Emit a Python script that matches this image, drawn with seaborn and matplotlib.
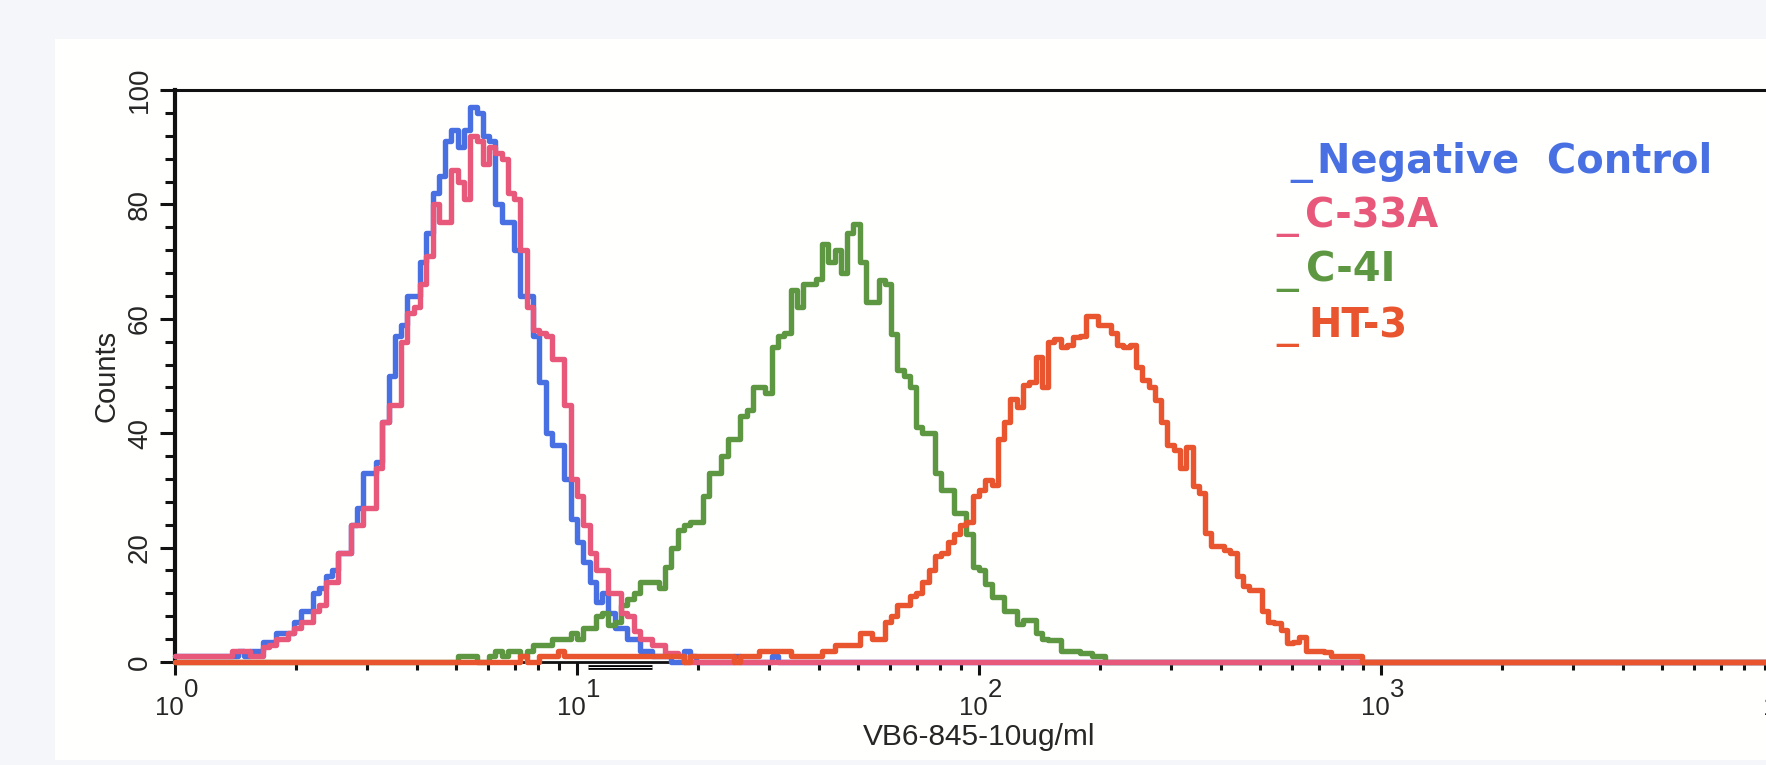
import numpy as np
import pandas as pd
import matplotlib
matplotlib.use("Agg")
import matplotlib.pyplot as plt
from matplotlib.patches import Rectangle
from matplotlib.ticker import LogLocator, NullFormatter, MultipleLocator
import seaborn as sns

# 256 log-amplified channels spread over four decades
n_channels = 256
channels_per_decade = 64

samples = ["Negative  Control", "C-33A", "C-4I", "HT-3"]
sample_colors = ["#4870e2", "#e8587a", "#5e9742", "#e8552f"]

neg_ctrl_start = 0
neg_ctrl_counts = [1, 1, 1, 1, 1, 1, 1, 1, 1, 1, 2, 1, 2, 2, 3.5, 3.5, 5, 5, 5, 7,
                   9, 9, 12, 13, 15, 16, 19, 19, 24, 27, 33, 33, 35, 42, 50, 57,
                   59, 64, 64, 70, 75, 82, 85, 91, 93, 90, 93, 97, 96, 92, 91, 80,
                   77, 77, 72, 64, 64, 57, 49, 40, 38, 38, 32, 25, 21, 17.5, 14,
                   10.5, 12, 8.6, 6, 6, 4, 4, 2, 2, 1, 1, 1, 0, 0, 2, 1, 0, 0, 0,
                   0, 0, 0, 1, 0, 0, 0, 0, 0, 1]

c33a_start = 0
c33a_counts = [1, 1, 1, 1, 1, 1, 1, 1, 1, 2, 2, 2, 1, 1, 2.6, 3, 4, 4, 5, 6, 7, 7,
               9, 10, 14, 14, 19, 19, 24, 24, 27, 27, 34, 42, 45, 45, 56, 61, 62,
               66, 71, 80, 77, 77, 86, 84, 81, 92, 91, 87, 90, 89, 88, 82, 81, 72,
               62, 58, 57.5, 57, 53, 53, 45, 32, 29, 24, 19, 16, 16, 12, 12, 8.6,
               8, 5.4, 4, 4, 3, 3, 1.6, 1.5, 1]

c4i_start = 45
c4i_counts = [1, 1, 1, 0, 0, 1, 2, 1, 2, 2, 1, 2, 3, 3, 3, 4, 4, 4, 5, 4, 6, 6, 8,
              8.5, 6.5, 7, 10, 11, 12, 14, 14, 14, 13, 16.6, 20, 23, 24, 24.5,
              24.5, 29, 33, 33, 36, 39, 39, 43, 44, 48, 48, 47, 55, 57, 57.5, 65,
              62, 66, 66, 67, 73, 70, 72, 68, 75, 76.5, 70, 63, 63, 66.7, 66,
              57.4, 51, 50, 48, 41, 40, 40, 33, 30, 30, 26, 26, 22.4, 16.6, 16,
              13.7, 11.4, 11.4, 9, 9, 6.7, 7.3, 7.3, 5, 4, 3.8, 3.8, 2, 2, 2,
              1.5, 1.5, 1, 1]

ht3_start = 55
ht3_counts = [1, 0, 0, 1, 1, 1, 2, 1, 1, 1, 1, 1, 1, 1, 1, 1, 1, 1, 1, 1, 1,
              1, 1, 1, 1, 1, 0, 1, 1, 1, 1, 1, 1, 1, 0, 1, 1, 1, 2, 2, 2, 2, 2,
              1, 1, 1, 1, 1, 2, 2, 3, 3, 3, 3, 5, 5, 4, 4, 7, 8, 10, 10, 11.5, 12,
              14, 16, 18.5, 19, 21, 22.4, 24, 24.5, 29, 30, 31.8, 31, 39, 42, 46,
              44.5, 48.5, 49, 53.3, 48, 56, 56.5, 55, 55.5, 56.8, 57, 60.5, 60.5,
              59, 59, 57.5, 55.5, 55, 55.5, 51.6, 49.3, 48, 45.8, 42, 38, 37, 34,
              37.6, 30.7, 29.5, 22.5, 20.2, 20.2, 19.6, 19, 15, 13.2, 12.6, 12.6,
              9, 7, 6.8, 5.6, 3.3, 3.5, 4.4, 2, 2, 2, 1.8, 1, 1, 1, 1, 1]

sample_starts = [neg_ctrl_start, c33a_start, c4i_start, ht3_start]
sample_counts = [neg_ctrl_counts, c33a_counts, c4i_counts, ht3_counts]

# marker gate drawn just under the baseline
gate_range = [10.65, 15.4]

y_ticks = [0, 20, 40, 60, 80, 100]
x_decades = [0, 1, 2, 3, 4]
x_label = "VB6-845-10ug/ml"
y_label = "Counts"


def full_histogram(start, counts):
    h = np.zeros(n_channels)
    h[start:start + len(counts)] = counts
    return h


edges = 10.0 ** (np.arange(n_channels + 1) / channels_per_decade)

sns.set_style("ticks")
plt.rcParams["font.family"] = ["Liberation Sans", "DejaVu Sans"]

W, H = 1766, 765
fig = plt.figure(figsize=(W / 100, H / 100), dpi=100, facecolor="#f5f6fa")
# paper sheet
fig.add_artist(Rectangle((55 / W, 1 - 760 / H), 1 - 55 / W, (760 - 39) / H,
                         transform=fig.transFigure, facecolor="#fffffd",
                         edgecolor="none", zorder=0))

ax = fig.add_axes([175 / W, 1 - 662 / H, 1608 / W, 572 / H])
ax.set_facecolor("none")
ax.set_xscale("log")

# stacking: control at the back, HT-3 in front
z_order = {0: 3, 2: 4, 1: 5, 3: 6}
for i, (name, start, counts, color) in enumerate(
        zip(samples, sample_starts, sample_counts, sample_colors)):
    h = full_histogram(start, counts)
    df = pd.DataFrame({"x": edges, "y": np.append(h, h[-1])})
    sns.lineplot(data=df, x="x", y="y", ax=ax, color=color, lw=3.9,
                 drawstyle="steps-post", estimator=None, sort=False,
                 zorder=z_order[i], clip_on=False)

# gate marker
ax.plot(gate_range, [-0.8, -0.8], color="black", lw=3.4, zorder=1,
        clip_on=False, solid_capstyle="butt")
ax.plot(gate_range, [-0.8, -0.8], color="white", lw=0.7, zorder=1.1,
        clip_on=False, solid_capstyle="butt")

ax.set_xlim(10 ** x_decades[0], 10 ** x_decades[-1])
ax.set_ylim(y_ticks[0], y_ticks[-1])

ax.spines["right"].set_visible(False)
ax.spines["left"].set_linewidth(3.0)
ax.spines["top"].set_linewidth(2.2)
ax.spines["bottom"].set_linewidth(2.0)
for s in ax.spines.values():
    s.set_color("#111111")
    s.set_zorder(2)

ax.xaxis.set_major_locator(LogLocator(base=10, numticks=10))
ax.xaxis.set_minor_locator(LogLocator(base=10, subs=np.arange(2, 10), numticks=100))
ax.xaxis.set_major_formatter(NullFormatter())
ax.xaxis.set_minor_formatter(NullFormatter())
ax.tick_params(axis="x", which="major", direction="out", length=9, width=2.2,
               color="#111111")
ax.tick_params(axis="x", which="minor", direction="out", length=6, width=2.2,
               color="#111111")

ax.set_yticks(y_ticks)
ax.yaxis.set_minor_locator(MultipleLocator(4))
ax.set_yticklabels([str(v) for v in y_ticks], rotation=90, fontsize=20,
                   va="center")
ax.tick_params(axis="y", which="major", direction="out", length=10.8, width=2.2,
               pad=5, color="#111111")
ax.tick_params(axis="y", which="minor", direction="out", length=7.2, width=2.2,
               color="#111111")

# decade labels: "10" with a full-size raised exponent
for k in x_decades:
    ax.annotate("10", xy=(10 ** k, 0), xycoords=("data", "axes fraction"),
                xytext=(6.5, -38.2), textcoords="offset points", ha="right",
                va="baseline", fontsize=18.5, annotation_clip=False)
    ax.annotate(str(k), xy=(10 ** k, 0), xycoords=("data", "axes fraction"),
                xytext=(6.5, -25.2), textcoords="offset points", ha="left",
                va="baseline", fontsize=18.5, annotation_clip=False)

ax.set_xlabel(x_label, fontsize=21.5)
ax.xaxis.label.set_va("baseline")
ax.xaxis.set_label_coords(0.5, (662 - 745) / 572)
ax.set_ylabel(y_label, fontsize=21)
ax.yaxis.label.set_va("baseline")
ax.yaxis.set_label_coords((115 - 175) / 1608, 0.5)

# legend text block
legend_rows = [(1290, 1317, 173), (1276, 1305, 227), (1276, 1306, 282), (1276, 1308, 337)]
for (ux, tx, base), name, color in zip(legend_rows, samples, sample_colors):
    fig.text(ux / W, 1 - base / H, "_", color=color, fontsize=31,
             family="DejaVu Sans", ha="left", va="baseline")
    fig.text(tx / W, 1 - base / H, name, color=color, fontsize=28.8,
             family="DejaVu Sans", fontweight="bold", ha="left", va="baseline")

fig.savefig("out.png", dpi=100, facecolor=fig.get_facecolor())
